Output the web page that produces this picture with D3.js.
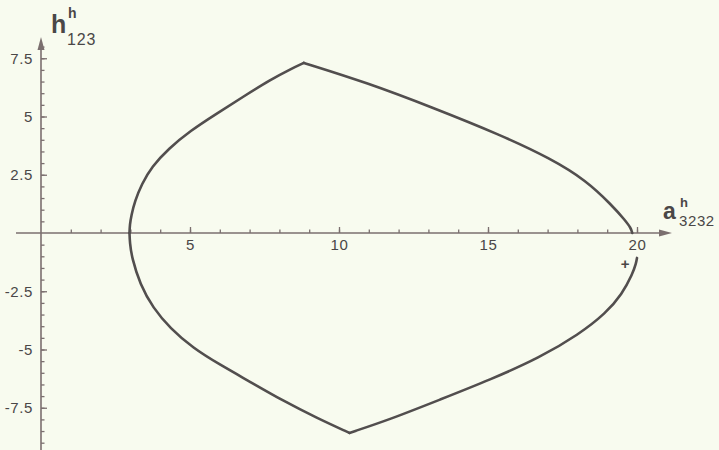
<!DOCTYPE html>
<html>
<head>
<meta charset="utf-8">
<script src="https://cdn.jsdelivr.net/npm/d3@7"></script>
<style>
  html, body { margin: 0; padding: 0; background: #f8fbef; }
  svg { display: block; }
</style>
</head>
<body>
<svg id="chart" width="719" height="450"></svg>
<script>
// Upper branch: from the left vertex up to the top cusp, then down to the right vertex
const upperLeft = [
  [2.97, 0], [2.98, 0.35], [3.03, 0.75], [3.15, 1.37], [3.38, 2.1], [3.72, 2.85],
  [4.28, 3.62], [5.0, 4.38], [5.9, 5.13], [6.8, 5.86], [7.7, 6.58], [8.4, 7.05], [8.82, 7.3]
];
const upperRight = [
  [8.82, 7.3], [10.94, 6.45], [13.15, 5.38], [15.4, 4.22], [17.1, 3.2],
  [18.3, 2.25], [19.15, 1.2], [19.6, 0.55], [19.8, 0.2], [19.84, 0]
];
// Lower branch: from the left vertex down to the bottom cusp, then up towards a = 20
const lowerLeft = [
  [2.97, 0], [2.98, -0.4], [3.05, -1.07], [3.32, -2.19], [3.76, -3.22], [4.33, -4.08],
  [5.1, -4.94], [6.0, -5.65], [7.01, -6.38], [8.12, -7.2], [9.26, -7.94], [10.35, -8.58]
];
const lowerRight = [
  [10.35, -8.58], [11.71, -8.0], [13.39, -7.15], [15.07, -6.3], [16.74, -5.35],
  [18.05, -4.35], [18.95, -3.45], [19.5, -2.62], [19.85, -1.76], [19.97, -1.3], [20.0, -1.07]
];
const endMarker = [19.6, -1.3];

const xMajorTicks = [5, 10, 15, 20];
const xMinorTicks = d3.range(1, 21, 1);
const yMajorTicks = [-7.5, -5, -2.5, 2.5, 5, 7.5];
const yMinorTicks = d3.range(-9, 8.01, 0.5).filter(v => v !== 0);

const svg = d3.select("#chart");
const W = 719, H = 450;

const x = d3.scaleLinear().domain([0, 20]).range([41, 637]);
const y = d3.scaleLinear().domain([0, 7.5]).range([233, 58.25]);

const axisColor = "#7b6f6f";
const textColor = "#4a4747";
const curveColor = "#524e4e";
const font = "Liberation Sans, Arial, sans-serif";

// axis lines with arrowheads
const xAxisStart = 16, xAxisEnd = 672;
const yAxisTop = 37;
svg.append("line")
  .attr("x1", xAxisStart).attr("x2", xAxisEnd - 8)
  .attr("y1", y(0)).attr("y2", y(0))
  .attr("stroke", axisColor).attr("stroke-width", 1.6);
svg.append("path")
  .attr("d", `M${xAxisEnd},${y(0)} L${xAxisEnd - 13},${y(0) - 3.5} L${xAxisEnd - 13},${y(0) + 3.5} Z`)
  .attr("fill", axisColor);
svg.append("line")
  .attr("x1", x(0)).attr("x2", x(0))
  .attr("y1", yAxisTop + 8).attr("y2", H)
  .attr("stroke", axisColor).attr("stroke-width", 1.6);
svg.append("path")
  .attr("d", `M${x(0)},${yAxisTop} L${x(0) - 3.5},${yAxisTop + 13} L${x(0) + 3.5},${yAxisTop + 13} Z`)
  .attr("fill", axisColor);

function styleAxis(g) {
  g.select(".domain").remove();
  g.selectAll(".tick line").attr("stroke", axisColor).attr("stroke-width", 1.3);
  g.selectAll(".tick text")
    .attr("fill", textColor)
    .attr("font-family", font)
    .attr("font-size", 15)
    .attr("letter-spacing", "0.6px");
}

// x axis: minor ticks, then labelled major ticks
svg.append("g")
  .attr("transform", `translate(0,${y(0)})`)
  .call(d3.axisBottom(x).tickValues(xMinorTicks).tickSize(-3.5).tickFormat(""))
  .call(styleAxis);
svg.append("g")
  .attr("transform", `translate(0,${y(0)})`)
  .call(d3.axisBottom(x).tickValues(xMajorTicks).tickSize(-6).tickPadding(6).tickFormat(d3.format("d")))
  .call(styleAxis);

// y axis: minor ticks, then labelled major ticks
svg.append("g")
  .attr("transform", `translate(${x(0)},0)`)
  .call(d3.axisLeft(y).tickValues(yMinorTicks).tickSize(-3.5).tickFormat(""))
  .call(styleAxis);
svg.append("g")
  .attr("transform", `translate(${x(0)},0)`)
  .call(d3.axisLeft(y).tickValues(yMajorTicks).tickSize(-6).tickPadding(8).tickFormat(d => String(d)))
  .call(styleAxis);

// curve, one smooth arc per segment between the vertices and cusps
const line = d3.line()
  .x(d => x(d[0])).y(d => y(d[1]))
  .curve(d3.curveBasis);
[upperLeft, upperRight, lowerLeft, lowerRight].forEach(seg => {
  svg.append("path")
    .attr("d", line(seg))
    .attr("fill", "none")
    .attr("stroke", curveColor)
    .attr("stroke-width", 2.6)
    .attr("stroke-linejoin", "round")
    .attr("stroke-linecap", "round");
});

// end marker
svg.append("text")
  .attr("x", x(endMarker[0])).attr("y", y(endMarker[1]))
  .attr("text-anchor", "middle").attr("dominant-baseline", "central")
  .attr("font-family", font)
  .attr("font-size", 15).attr("font-weight", "bold")
  .attr("fill", textColor)
  .text("+");

// axis titles
svg.append("text").attr("x", 51).attr("y", 33)
  .attr("font-family", font).attr("font-size", 25).attr("font-weight", "bold")
  .attr("fill", textColor).text("h");
svg.append("text").attr("x", 68).attr("y", 18)
  .attr("font-family", font).attr("font-size", 14).attr("font-weight", "bold")
  .attr("fill", textColor).text("h");
svg.append("text").attr("x", 67).attr("y", 45)
  .attr("font-family", font).attr("font-size", 16).attr("letter-spacing", "0.8px")
  .attr("fill", textColor).text("123");

svg.append("text").attr("x", 663).attr("y", 219)
  .attr("font-family", font).attr("font-size", 23).attr("font-weight", "bold")
  .attr("fill", textColor).text("a");
svg.append("text").attr("x", 680).attr("y", 207)
  .attr("font-family", font).attr("font-size", 13).attr("font-weight", "bold")
  .attr("fill", textColor).text("h");
svg.append("text").attr("x", 679).attr("y", 226)
  .attr("font-family", font).attr("font-size", 15).attr("letter-spacing", "0.6px")
  .attr("fill", textColor).text("3232");
</script>
</body>
</html>
